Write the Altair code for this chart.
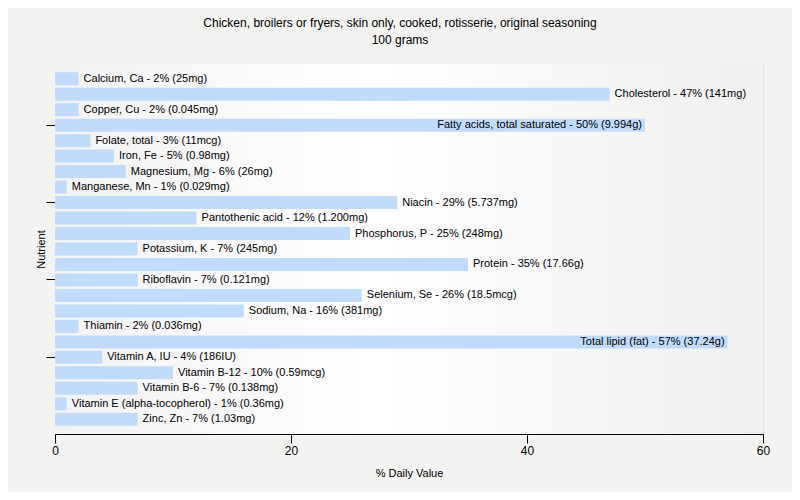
import altair as alt
import pandas as pd

nutrients = [
    "Calcium, Ca", "Cholesterol", "Copper, Cu", "Fatty acids, total saturated",
    "Folate, total", "Iron, Fe", "Magnesium, Mg", "Manganese, Mn", "Niacin",
    "Pantothenic acid", "Phosphorus, P", "Potassium, K", "Protein", "Riboflavin",
    "Selenium, Se", "Sodium, Na", "Thiamin", "Total lipid (fat)", "Vitamin A, IU",
    "Vitamin B-12", "Vitamin B-6", "Vitamin E (alpha-tocopherol)", "Zinc, Zn",
]
pct = [2, 47, 2, 50, 3, 5, 6, 1, 29, 12, 25, 7, 35, 7, 26, 16, 2, 57, 4, 10, 7, 1, 7]
amounts = [
    "25mg", "141mg", "0.045mg", "9.994g", "11mcg", "0.98mg", "26mg", "0.029mg",
    "5.737mg", "1.200mg", "248mg", "245mg", "17.66g", "0.121mg", "18.5mcg",
    "381mg", "0.036mg", "37.24g", "186IU", "0.59mcg", "0.138mg", "0.36mg", "1.03mg",
]
tick_values = [nutrients[i] for i in range(3, len(nutrients), 5)]

df = pd.DataFrame({"nutrient": nutrients, "pct": pct, "amount": amounts})
df["label"] = df["nutrient"] + " - " + df["pct"].astype(str) + "% (" + df["amount"] + ")"
df["inside"] = df["pct"] >= 50

W, H = 708, 370
FONT = "Liberation Sans"

yscale = alt.Scale(domain=nutrients, paddingInner=0.16, paddingOuter=0.53)
xscale = alt.Scale(domain=[0, 60])

bg = alt.Chart(pd.DataFrame({"a": [0]})).mark_rect(
    fill=alt.Gradient(
        gradient="linear",
        stops=[
            alt.GradientStop(color="#f3f3f3", offset=0),
            alt.GradientStop(color="#ffffff", offset=0.45),
            alt.GradientStop(color="#f0f0f0", offset=1),
        ],
        x1=0, x2=1, y1=0, y2=0,
    )
).encode(x=alt.value(0), x2=alt.value(W), y=alt.value(0), y2=alt.value(H))

base = alt.Chart(df)

bars = base.mark_bar(color="#c0dcfa").encode(
    y=alt.Y("nutrient:N", scale=yscale, sort=nutrients,
            axis=alt.Axis(values=tick_values, labels=False, title="Nutrient",
                          tickSize=9, tickColor="#000000", domainColor="#000000",
                          titleFont=FONT, titleFontSize=11, titleFontWeight="normal",
                          titleColor="#000000", titlePadding=-1)),
    x=alt.X("pct:Q", scale=xscale,
            axis=alt.Axis(values=[0, 20, 40, 60], title="% Daily Value", tickSize=9,
                          tickColor="#000000", domainColor="#000000", gridColor="#e2e2e2",
                          labelFont=FONT, labelFontSize=12, labelColor="#000000",
                          labelPadding=2, labelFlush=False,
                          titleFont=FONT, titleFontSize=11, titleFontWeight="normal",
                          titleColor="#000000", titlePadding=11)),
)

outside = base.transform_filter("!datum.inside").mark_text(
    align="left", baseline="middle", dx=5, font=FONT, fontSize=11, color="#000000"
).encode(y=alt.Y("nutrient:N", scale=yscale, sort=nutrients), x=alt.X("pct:Q", scale=xscale), text="label:N")

inside = base.transform_filter("datum.inside").mark_text(
    align="right", baseline="middle", dx=-3, font=FONT, fontSize=11, color="#000000"
).encode(y=alt.Y("nutrient:N", scale=yscale, sort=nutrients), x=alt.X("pct:Q", scale=xscale), text="label:N")

chart = alt.layer(bg, bars, outside, inside).properties(
    width=W, height=H,
    title=alt.TitleParams(
        ["Chicken, broilers or fryers, skin only, cooked, rotisserie, original seasoning", "100 grams"],
        font=FONT, fontSize=12, fontWeight="normal", color="#000000", offset=17, dx=-9,
        lineHeight=17,
    ),
    autosize=alt.AutoSizeParams(type="none"),
    padding={"left": 47, "top": 56, "right": 29, "bottom": 58},
    background="#f3f3f2",
).configure_view(stroke=None).configure_axis(grid=True).configure_axisY(grid=False)

chart.save("out.html", embed_options={"renderer": "svg", "actions": False})
